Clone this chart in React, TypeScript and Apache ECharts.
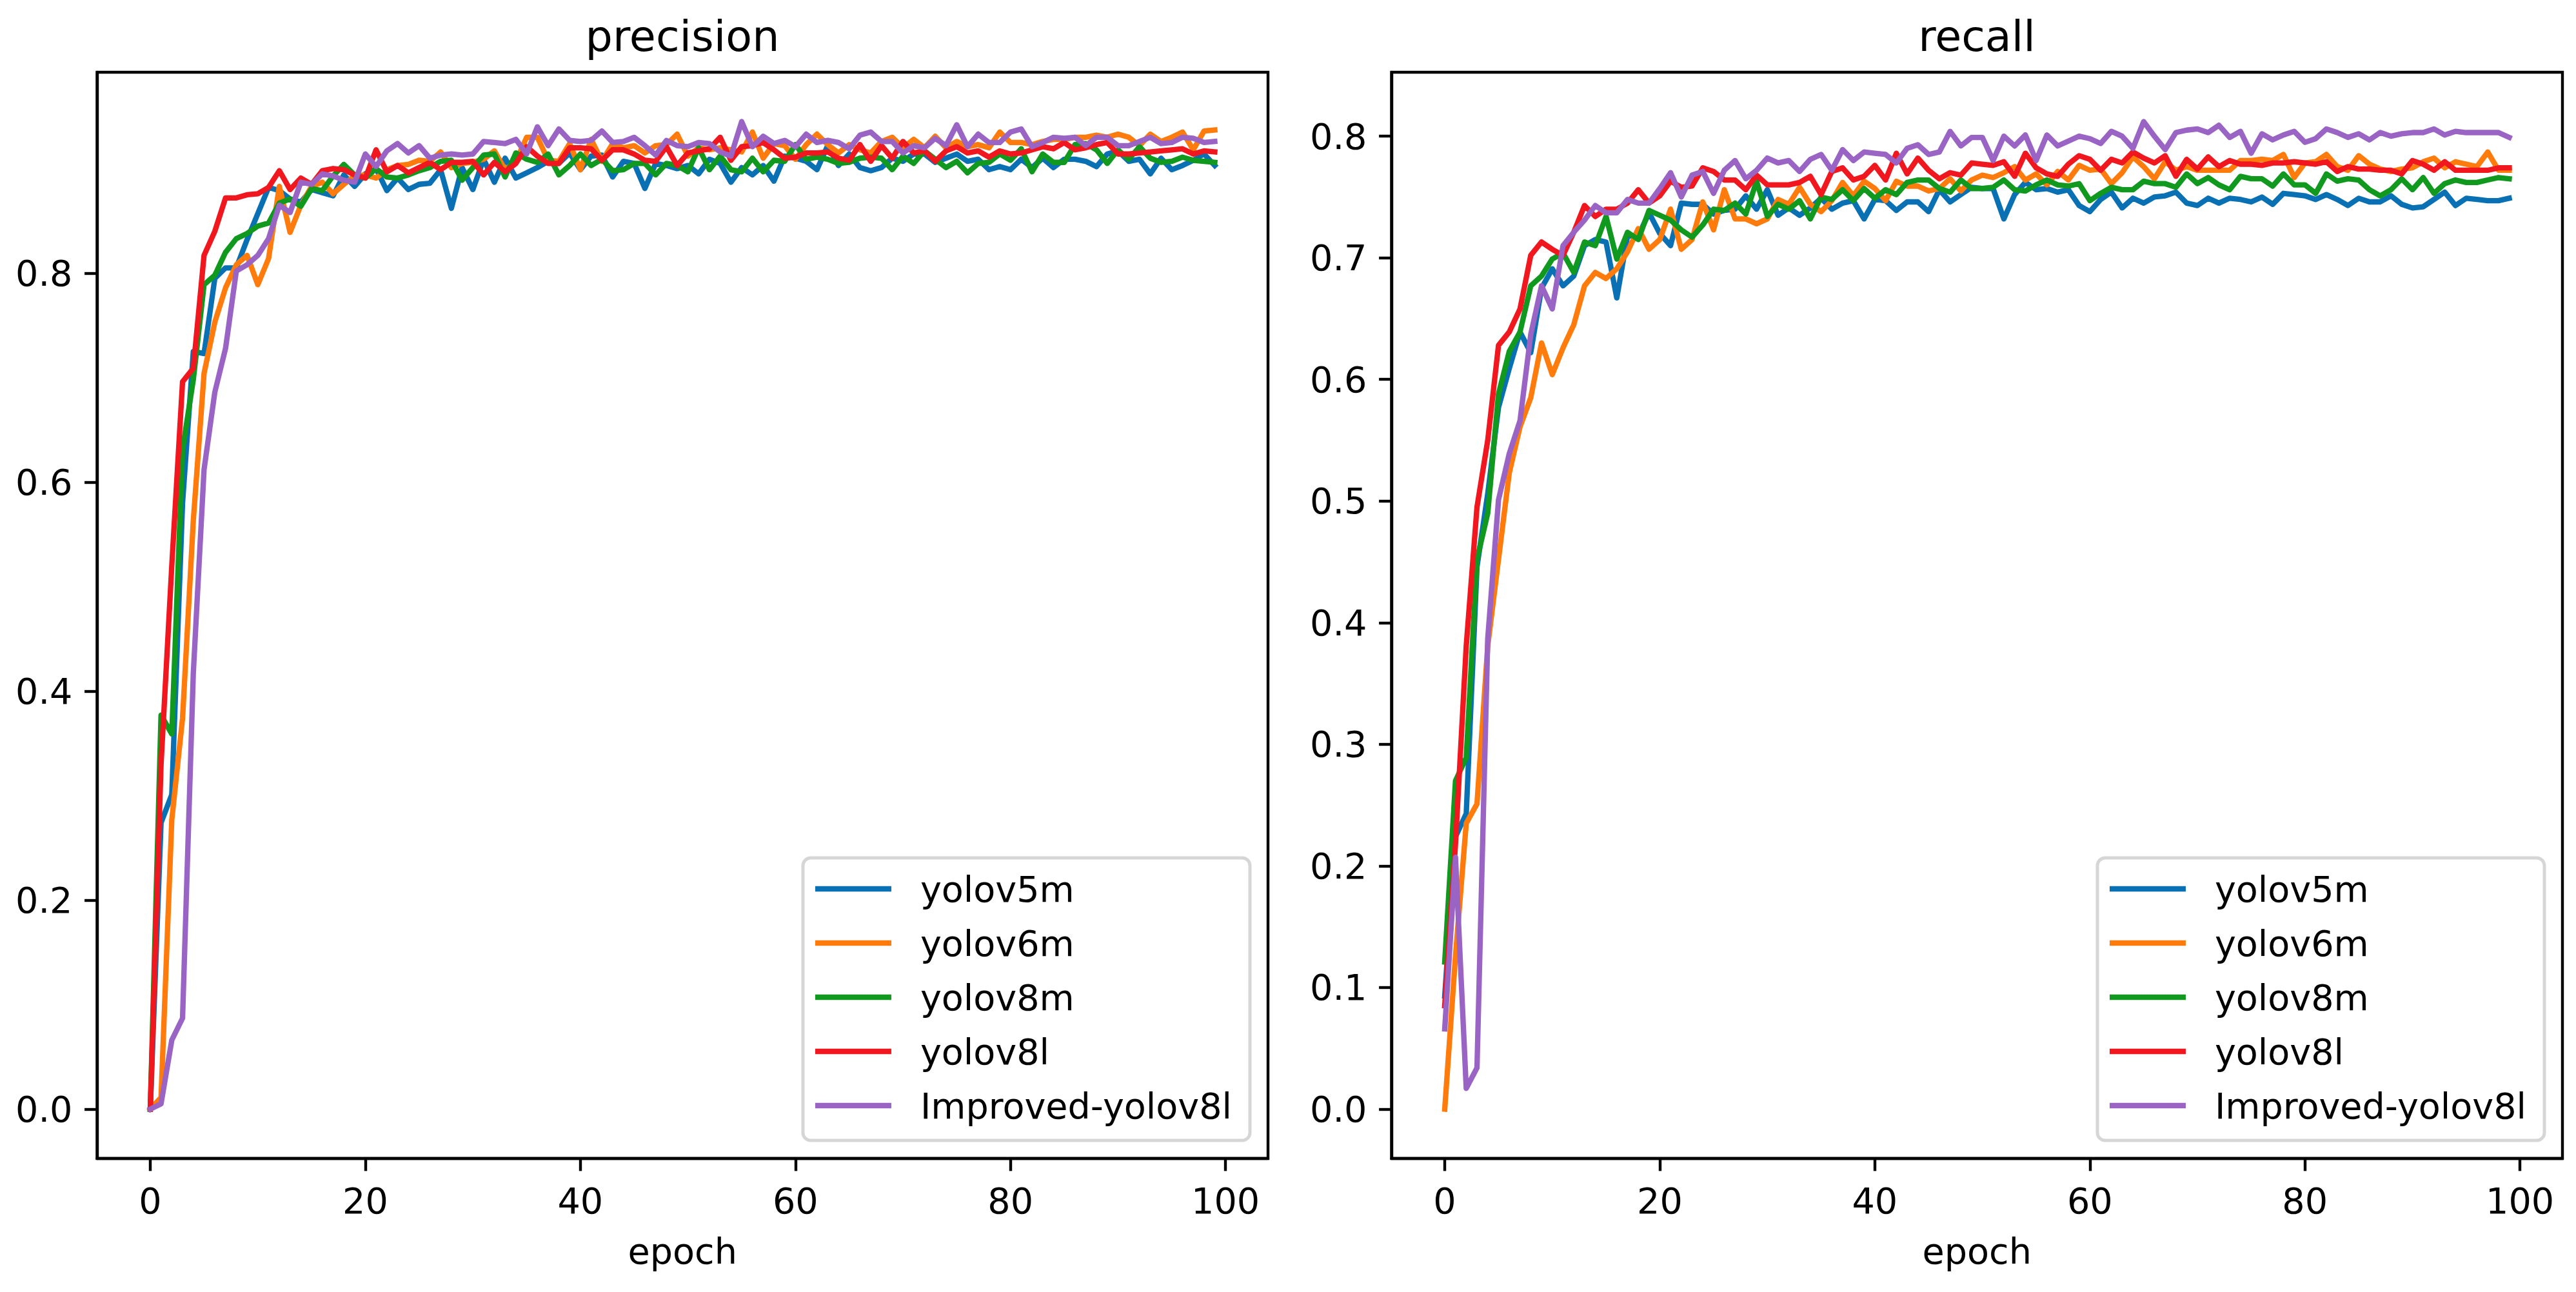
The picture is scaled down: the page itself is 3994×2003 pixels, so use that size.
import React, { useEffect, useRef } from 'react'
import * as echarts from 'echarts'

// model names, in legend / drawing order
const models = ['yolov5m', 'yolov6m', 'yolov8m', 'yolov8l', 'Improved-yolov8l']
const colors = ['#0a70b4', '#ff7b0c', '#10991e', '#f0171f', '#9a64c4']

const xTicks = [0, 20, 40, 60, 80, 100]
const precisionTicks = [0, 0.2, 0.4, 0.6, 0.8]
const recallTicks = [0, 0.1, 0.2, 0.3, 0.4, 0.5, 0.6, 0.7, 0.8]

// precision per epoch (0..99)
const precisionV5m = [
  0.0, 0.274, 0.301, 0.58, 0.725, 0.723, 0.795, 0.805, 0.805, 0.832,
  0.857, 0.882, 0.879, 0.871, 0.868, 0.880, 0.877, 0.874, 0.894, 0.883,
  0.895, 0.900, 0.879, 0.891, 0.880, 0.885, 0.886, 0.899, 0.862, 0.901,
  0.880, 0.909, 0.887, 0.910, 0.891, 0.896, 0.901, 0.907, 0.905, 0.915,
  0.899, 0.912, 0.913, 0.892, 0.907, 0.905, 0.881, 0.905, 0.903, 0.900,
  0.903, 0.895, 0.909, 0.905, 0.887, 0.901, 0.894, 0.903, 0.888, 0.912,
  0.910, 0.907, 0.899, 0.922, 0.903, 0.914, 0.901, 0.898, 0.901, 0.910,
  0.907, 0.914, 0.914, 0.906, 0.910, 0.914, 0.907, 0.909, 0.899, 0.902,
  0.899, 0.909, 0.901, 0.910, 0.901, 0.909, 0.909, 0.907, 0.902, 0.914,
  0.917, 0.907, 0.909, 0.895, 0.910, 0.899, 0.903, 0.908, 0.914, 0.903
]
const precisionV6m = [
  0.0, 0.011, 0.277, 0.374, 0.563, 0.704, 0.753, 0.786, 0.808, 0.817,
  0.789, 0.814, 0.883, 0.839, 0.865, 0.883, 0.887, 0.876, 0.885, 0.893,
  0.894, 0.891, 0.899, 0.903, 0.904, 0.908, 0.907, 0.916, 0.901, 0.905,
  0.906, 0.909, 0.917, 0.899, 0.907, 0.930, 0.930, 0.908, 0.907, 0.924,
  0.899, 0.928, 0.907, 0.924, 0.920, 0.922, 0.915, 0.922, 0.923, 0.933,
  0.912, 0.920, 0.918, 0.920, 0.918, 0.916, 0.935, 0.910, 0.924, 0.922,
  0.909, 0.923, 0.933, 0.923, 0.915, 0.923, 0.918, 0.915, 0.926, 0.930,
  0.920, 0.928, 0.920, 0.931, 0.920, 0.926, 0.921, 0.923, 0.920, 0.935,
  0.925, 0.925, 0.923, 0.926, 0.928, 0.928, 0.930, 0.930, 0.932, 0.930,
  0.933, 0.930, 0.922, 0.933, 0.926, 0.930, 0.935, 0.918, 0.936, 0.937
]
const precisionV8m = [
  0.0, 0.377, 0.359, 0.631, 0.698, 0.789, 0.798, 0.820, 0.833, 0.838,
  0.845, 0.848, 0.867, 0.871, 0.864, 0.881, 0.879, 0.893, 0.904, 0.894,
  0.891, 0.900, 0.892, 0.891, 0.894, 0.898, 0.901, 0.907, 0.908, 0.889,
  0.901, 0.913, 0.914, 0.892, 0.915, 0.909, 0.906, 0.914, 0.894, 0.903,
  0.914, 0.903, 0.909, 0.898, 0.899, 0.905, 0.905, 0.894, 0.905, 0.903,
  0.897, 0.920, 0.899, 0.912, 0.899, 0.897, 0.910, 0.897, 0.908, 0.907,
  0.923, 0.909, 0.911, 0.909, 0.905, 0.906, 0.910, 0.911, 0.910, 0.899,
  0.912, 0.905, 0.917, 0.909, 0.901, 0.907, 0.896, 0.905, 0.906, 0.914,
  0.908, 0.919, 0.897, 0.914, 0.906, 0.906, 0.923, 0.924, 0.918, 0.905,
  0.918, 0.909, 0.921, 0.910, 0.906, 0.907, 0.911, 0.908, 0.907, 0.906
]
const precisionV8l = [
  0.0, 0.33, 0.52, 0.696, 0.709, 0.817, 0.840, 0.872, 0.872, 0.875,
  0.876, 0.882, 0.898, 0.880, 0.891, 0.885, 0.898, 0.900, 0.899, 0.894,
  0.891, 0.918, 0.897, 0.903, 0.896, 0.901, 0.906, 0.899, 0.906, 0.906,
  0.907, 0.894, 0.906, 0.897, 0.905, 0.921, 0.912, 0.905, 0.905, 0.920,
  0.920, 0.919, 0.908, 0.918, 0.918, 0.914, 0.908, 0.907, 0.921, 0.903,
  0.915, 0.917, 0.919, 0.930, 0.908, 0.921, 0.922, 0.925, 0.918, 0.910,
  0.911, 0.915, 0.915, 0.916, 0.910, 0.908, 0.923, 0.907, 0.922, 0.910,
  0.926, 0.915, 0.917, 0.907, 0.917, 0.921, 0.915, 0.917, 0.911, 0.917,
  0.914, 0.915, 0.918, 0.921, 0.919, 0.925, 0.918, 0.920, 0.923, 0.925,
  0.914, 0.914, 0.915, 0.916, 0.917, 0.918, 0.919, 0.914, 0.917, 0.916
]
const precisionImproved = [
  0.0, 0.005, 0.066, 0.087, 0.417, 0.612, 0.686, 0.728, 0.802, 0.808,
  0.817, 0.833, 0.865, 0.858, 0.887, 0.885, 0.895, 0.893, 0.889, 0.887,
  0.914, 0.902, 0.917, 0.924, 0.915, 0.922, 0.910, 0.913, 0.914, 0.913,
  0.914, 0.926, 0.925, 0.924, 0.928, 0.914, 0.940, 0.922, 0.938, 0.927,
  0.926, 0.927, 0.936, 0.925, 0.926, 0.930, 0.922, 0.913, 0.927, 0.922,
  0.921, 0.925, 0.924, 0.916, 0.912, 0.945, 0.921, 0.931, 0.924, 0.927,
  0.921, 0.933, 0.925, 0.927, 0.925, 0.919, 0.932, 0.935, 0.926, 0.926,
  0.915, 0.922, 0.920, 0.929, 0.922, 0.942, 0.921, 0.933, 0.925, 0.925,
  0.935, 0.938, 0.921, 0.925, 0.930, 0.929, 0.930, 0.922, 0.930, 0.930,
  0.922, 0.922, 0.926, 0.930, 0.924, 0.925, 0.930, 0.929, 0.925, 0.926
]

// recall per epoch (0..99)
const recallV5m = [
  0.093, 0.224, 0.243, 0.446, 0.506, 0.577, 0.609, 0.639, 0.622, 0.675,
  0.691, 0.677, 0.685, 0.710, 0.715, 0.713, 0.667, 0.718, 0.718, 0.737,
  0.720, 0.710, 0.745, 0.744, 0.744, 0.736, 0.739, 0.740, 0.751, 0.740,
  0.756, 0.735, 0.741, 0.735, 0.741, 0.749, 0.740, 0.745, 0.747, 0.732,
  0.748, 0.747, 0.739, 0.746, 0.746, 0.738, 0.756, 0.746, 0.752, 0.758,
  0.757, 0.757, 0.732, 0.752, 0.762, 0.756, 0.757, 0.754, 0.756, 0.743,
  0.738, 0.748, 0.754, 0.741, 0.749, 0.745, 0.750, 0.751, 0.754, 0.745,
  0.743, 0.749, 0.745, 0.749, 0.748, 0.746, 0.750, 0.744, 0.753, 0.752,
  0.751, 0.748, 0.752, 0.748, 0.743, 0.749, 0.746, 0.746, 0.751, 0.744,
  0.741, 0.742, 0.748, 0.754, 0.743, 0.749, 0.748, 0.747, 0.747, 0.749
]
const recallV6m = [
  0.0, 0.126, 0.235, 0.251, 0.381, 0.452, 0.523, 0.561, 0.585, 0.630,
  0.604, 0.626, 0.645, 0.677, 0.688, 0.683, 0.691, 0.705, 0.724, 0.707,
  0.715, 0.740, 0.707, 0.715, 0.746, 0.723, 0.756, 0.732, 0.732, 0.728,
  0.732, 0.748, 0.744, 0.758, 0.744, 0.738, 0.747, 0.762, 0.751, 0.763,
  0.757, 0.747, 0.763, 0.759, 0.759, 0.755, 0.757, 0.765, 0.755, 0.764,
  0.768, 0.766, 0.770, 0.775, 0.764, 0.769, 0.760, 0.771, 0.764, 0.776,
  0.772, 0.773, 0.761, 0.770, 0.783, 0.775, 0.765, 0.779, 0.772, 0.775,
  0.772, 0.772, 0.772, 0.772, 0.780, 0.780, 0.781, 0.780, 0.785, 0.766,
  0.778, 0.779, 0.785, 0.775, 0.772, 0.784, 0.777, 0.773, 0.771, 0.773,
  0.774, 0.779, 0.782, 0.774, 0.779, 0.777, 0.775, 0.787, 0.772, 0.772
]
const recallV8m = [
  0.121, 0.270, 0.289, 0.452, 0.490, 0.588, 0.623, 0.639, 0.677, 0.685,
  0.699, 0.704, 0.688, 0.713, 0.710, 0.734, 0.699, 0.721, 0.715, 0.739,
  0.735, 0.731, 0.723, 0.717, 0.727, 0.740, 0.739, 0.745, 0.736, 0.763,
  0.734, 0.744, 0.740, 0.747, 0.732, 0.750, 0.748, 0.756, 0.747, 0.757,
  0.749, 0.756, 0.752, 0.762, 0.764, 0.764, 0.757, 0.754, 0.764, 0.757,
  0.757, 0.758, 0.764, 0.756, 0.755, 0.760, 0.764, 0.760, 0.759, 0.761,
  0.747, 0.753, 0.758, 0.756, 0.756, 0.763, 0.761, 0.761, 0.758, 0.769,
  0.761, 0.766, 0.760, 0.756, 0.767, 0.765, 0.765, 0.759, 0.769, 0.760,
  0.760, 0.753, 0.769, 0.763, 0.765, 0.764, 0.756, 0.751, 0.756, 0.765,
  0.756, 0.766, 0.753, 0.761, 0.764, 0.762, 0.762, 0.764, 0.766, 0.765
]
const recallV8l = [
  0.085, 0.218, 0.381, 0.495, 0.550, 0.628, 0.639, 0.658, 0.702, 0.713,
  0.707, 0.702, 0.721, 0.743, 0.734, 0.740, 0.740, 0.745, 0.756, 0.745,
  0.751, 0.763, 0.758, 0.759, 0.774, 0.771, 0.764, 0.764, 0.756, 0.768,
  0.760, 0.760, 0.760, 0.762, 0.767, 0.752, 0.771, 0.774, 0.764, 0.767,
  0.776, 0.764, 0.786, 0.769, 0.782, 0.772, 0.765, 0.770, 0.768, 0.778,
  0.777, 0.776, 0.779, 0.767, 0.786, 0.774, 0.769, 0.767, 0.777, 0.784,
  0.781, 0.772, 0.781, 0.778, 0.787, 0.782, 0.778, 0.784, 0.767, 0.781,
  0.773, 0.783, 0.775, 0.780, 0.777, 0.777, 0.776, 0.778, 0.778, 0.779,
  0.778, 0.777, 0.779, 0.771, 0.775, 0.773, 0.773, 0.772, 0.772, 0.769,
  0.780, 0.777, 0.772, 0.779, 0.772, 0.772, 0.772, 0.772, 0.774, 0.774
]
const recallImproved = [
  0.066, 0.207, 0.017, 0.034, 0.387, 0.501, 0.539, 0.566, 0.637, 0.677,
  0.658, 0.710, 0.721, 0.731, 0.743, 0.737, 0.737, 0.748, 0.745, 0.745,
  0.757, 0.770, 0.750, 0.768, 0.771, 0.753, 0.772, 0.780, 0.765, 0.772,
  0.782, 0.778, 0.780, 0.771, 0.781, 0.785, 0.772, 0.789, 0.780, 0.787,
  0.786, 0.785, 0.778, 0.790, 0.793, 0.785, 0.787, 0.804, 0.792, 0.799,
  0.799, 0.780, 0.800, 0.792, 0.801, 0.780, 0.801, 0.792, 0.796, 0.800,
  0.798, 0.794, 0.804, 0.800, 0.790, 0.812, 0.800, 0.789, 0.803, 0.805,
  0.806, 0.803, 0.809, 0.799, 0.804, 0.786, 0.802, 0.797, 0.801, 0.804,
  0.795, 0.798, 0.806, 0.803, 0.799, 0.802, 0.797, 0.803, 0.800, 0.802,
  0.803, 0.803, 0.806, 0.801, 0.804, 0.803, 0.803, 0.803, 0.803, 0.799
]

const precisionSeries = [precisionV5m, precisionV6m, precisionV8m, precisionV8l, precisionImproved]
const recallSeries = [recallV5m, recallV6m, recallV8m, recallV8l, recallImproved]

const FONT = 'DejaVu Sans'
const LW = 8.33
const SPINE = 4.4

const xAxisFor = (gridIndex: number) => ({
  type: 'value',
  gridIndex,
  min: -4.95,
  max: 103.95,
  name: 'epoch',
  nameLocation: 'middle',
  nameGap: 115,
  nameTextStyle: { fontFamily: FONT, fontSize: 55.6, color: '#000' },
  axisLine: { show: true, onZero: false, lineStyle: { color: '#000', width: SPINE } },
  axisTick: { show: true, length: 19.4, customValues: xTicks, lineStyle: { color: '#000', width: SPINE } },
  axisLabel: { customValues: xTicks, margin: 37, fontFamily: FONT, fontSize: 55.6, color: '#000' },
  splitLine: { show: false }
})

const yAxisFor = (gridIndex: number, min: number, max: number, ticks: number[]) => ({
  type: 'value',
  gridIndex,
  min,
  max,
  axisLine: { show: true, onZero: false, lineStyle: { color: '#000', width: SPINE } },
  axisTick: { show: true, length: 19.4, customValues: ticks, lineStyle: { color: '#000', width: SPINE } },
  axisLabel: {
    customValues: ticks,
    margin: 38,
    fontFamily: FONT,
    fontSize: 55.6,
    color: '#000',
    formatter: (v: number) => v.toFixed(1)
  },
  splitLine: { show: false }
})

// matplotlib-style legend: thick short line, then label, grey rounded frame
const legendFor = (right: number) => ({
  data: models.map((name) => ({ name, icon: 'rect' })),
  orient: 'vertical',
  right,
  bottom: 235,
  itemWidth: 118,
  itemHeight: 8.33,
  itemGap: 24,
  padding: [18, 28, 24, 19],
  backgroundColor: 'rgba(255,255,255,0.8)',
  borderColor: 'rgba(204,204,204,0.8)',
  borderWidth: 5,
  borderRadius: 12,
  selectedMode: false,
  textStyle: { fontFamily: FONT, fontSize: 55.6, color: '#000', lineHeight: 60, padding: [0, 0, 0, 40] }
})

const App: React.FC = () => {
  const chartRef = useRef<HTMLDivElement>(null)

  useEffect(() => {
    if (!chartRef.current) return
    const chart = echarts.init(chartRef.current, undefined, { renderer: 'svg' })

    const epochs = precisionV5m.map((_, i) => i)
    const makeSeries = (sets: number[][], idx: number) =>
      sets.map((vals, k) => ({
        name: models[k],
        type: 'line',
        xAxisIndex: idx,
        yAxisIndex: idx,
        data: epochs.map((e, i) => [e, vals[i]]),
        symbol: 'none',
        showSymbol: false,
        lineStyle: { color: colors[k], width: LW, join: 'round', cap: 'square' },
        itemStyle: { color: colors[k] },
        z: 2 + k
      }))

    const titleStyle = { fontFamily: FONT, fontSize: 66.7, fontWeight: 'normal', color: '#000' }

    const option = {
      animation: false,
      backgroundColor: '#fff',
      title: [
        { text: 'precision', left: 1058, top: 22, padding: 0, textAlign: 'center', textStyle: titleStyle },
        { text: 'recall', left: 3065, top: 22, padding: 0, textAlign: 'center', textStyle: titleStyle }
      ],
      grid: [
        { left: 150.5, top: 112, width: 1815.5, height: 1684, show: true, borderColor: '#000', borderWidth: SPINE, backgroundColor: '#fff' },
        { left: 2157.5, top: 112, width: 1815.5, height: 1684, show: true, borderColor: '#000', borderWidth: SPINE, backgroundColor: '#fff' }
      ],
      xAxis: [xAxisFor(0), xAxisFor(1)],
      yAxis: [
        yAxisFor(0, -0.04725, 0.99225, precisionTicks),
        yAxisFor(1, -0.0406, 0.8526, recallTicks)
      ],
      legend: [legendFor(3994 - 1938), legendFor(3994 - 3945)],
      series: [...makeSeries(precisionSeries, 0), ...makeSeries(recallSeries, 1)]
    }

    chart.setOption(option as any)
    return () => {
      chart.dispose()
    }
  }, [])

  return (
    <div
      ref={chartRef}
      style={{ position: 'absolute', left: 0, top: 0, width: '3994px', height: '2003px' }}
    />
  )
}

export default App
